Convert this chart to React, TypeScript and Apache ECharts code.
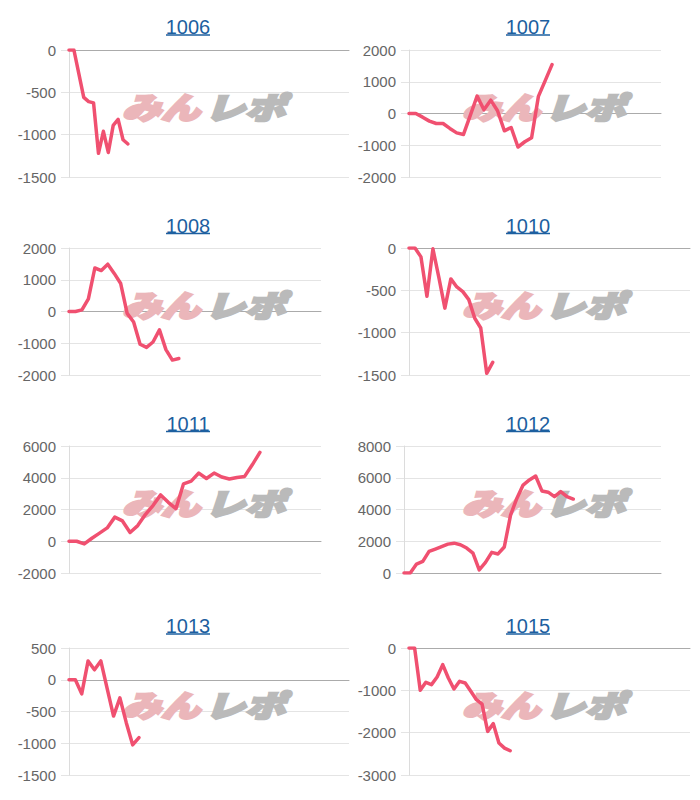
import React, { useEffect, useRef } from "react";
import * as echarts from "echarts";

// ---- data ----
const titles = ["1006", "1007", "1008", "1010", "1011", "1012", "1013", "1015"];
const categoryCounts = [58, 38, 40, 48, 34, 42, 45, 51];

const s1006 = [0, 0, -280, -560, -610, -625, -1220, -960, -1210, -890, -820, -1060, -1110];
const s1007 = [0, 0, -115, -240, -315, -315, -470, -610, -660, -60, 550, 115, 420, 85, -545, -440, -1055, -890, -765, 540, 1035, 1540];
const s1008 = [0, 0, 50, 400, 1370, 1290, 1490, 1200, 880, -60, -330, -1030, -1130, -960, -580, -1200, -1530, -1480];
const s1010 = [0, 0, -105, -570, -10, -350, -710, -365, -460, -515, -610, -830, -945, -1480, -1350];
const s1011 = [0, 0, -170, 190, 510, 840, 1520, 1280, 555, 985, 1680, 2250, 2920, 2450, 2050, 3620, 3790, 4295, 3955, 4295, 4045, 3920, 4020, 4085, 4815, 5595];
const s1012 = [0, 0, 560, 730, 1360, 1510, 1660, 1820, 1880, 1780, 1570, 1250, 200, 670, 1300, 1200, 1640, 3650, 4700, 5540, 5860, 6110, 5170, 5090, 4810, 5130, 4810, 4660];
const s1013 = [0, 0, -222, 296, 156, 296, -140, -572, -286, -676, -1025, -910];
const s1015 = [0, 0, -1000, -810, -866, -686, -394, -709, -969, -787, -827, -1024, -1220, -1325, -1969, -1787, -2245, -2365, -2428];

const seriesValues = [s1006, s1007, s1008, s1010, s1011, s1012, s1013, s1015];

const yMins = [-1500, -2000, -2000, -1500, -2000, 0, -1500, -3000];
const yMaxs = [0, 2000, 2000, 0, 6000, 8000, 500, 0];
const ySteps = [500, 1000, 1000, 500, 2000, 2000, 500, 1000];

// ---- layout (positions only) ----
const gridBoxes = [
  { left: 69, top: 50, width: 280, height: 127 },
  { left: 409, top: 50, width: 252, height: 127 },
  { left: 69, top: 248, width: 252, height: 127 },
  { left: 409, top: 248, width: 281, height: 127 },
  { left: 69, top: 446, width: 252, height: 127 },
  { left: 404, top: 446, width: 257, height: 127 },
  { left: 69, top: 648, width: 280, height: 127 },
  { left: 409, top: 648, width: 281, height: 127 },
];
const titleX = [188, 528];
const titleY = [27, 225.5, 423.5, 626];
const logoX = [204, 544];
const logoY = [106, 304, 502, 704];

const LINE_COLOR = "#f05070";
const TITLE_COLOR = "#1d5f9f";
const GRID_COLOR = "#e4e4e4";
const FONT = "'Liberation Sans', Arial, Helvetica, sans-serif";
const LOGO_FONT = "'Noto Sans CJK JP', sans-serif";

export default function App() {
  const ref = useRef<HTMLDivElement>(null);

  useEffect(() => {
    if (!ref.current) return;
    const chart = echarts.init(ref.current, undefined, { renderer: "svg" });

    const graphics: any[] = [];
    titles.forEach((t, i) => {
      const cx = titleX[i % 2];
      const cy = titleY[Math.floor(i / 2)];
      graphics.push({
        type: "text",
        x: cx,
        y: cy,
        z: 10,
        style: {
          text: t,
          fill: TITLE_COLOR,
          fontSize: 20,
          fontFamily: FONT,
          align: "center",
          verticalAlign: "middle",
        },
      });
      graphics.push({
        type: "line",
        z: 10,
        shape: { x1: cx - 22, y1: cy + 8, x2: cx + 22, y2: cy + 8 },
        style: { stroke: TITLE_COLOR, lineWidth: 1.5 },
      });
      const lx = logoX[i % 2];
      const ly = logoY[Math.floor(i / 2)];
      graphics.push({
        type: "text",
        x: lx - 43,
        y: ly,
        z: 1,
        scaleX: 1.3,
        style: {
          text: "みん",
          fill: "#ebb6ba",
          stroke: "#ebb6ba",
          lineWidth: 2.5,
          fontSize: 30,
          fontWeight: 900,
          fontStyle: "italic",
          fontFamily: LOGO_FONT,
          align: "center",
          verticalAlign: "middle",
        },
      });
      graphics.push({
        type: "text",
        x: lx + 41,
        y: ly,
        z: 1,
        scaleX: 1.34,
        style: {
          text: "レポ",
          fill: "#bababa",
          stroke: "#bababa",
          lineWidth: 2.5,
          fontSize: 30,
          fontWeight: 900,
          fontStyle: "italic",
          fontFamily: LOGO_FONT,
          align: "center",
          verticalAlign: "middle",
        },
      });
    });

    const option: any = {
      animation: false,
      backgroundColor: "#ffffff",
      grid: gridBoxes.map((g) => ({ ...g, containLabel: false })),
      xAxis: categoryCounts.map((n, i) => ({
        type: "category",
        gridIndex: i,
        data: Array.from({ length: n }, (_, k) => String(k + 1)),
        boundaryGap: false,
        axisLabel: { show: false },
        axisTick: { show: false },
        axisLine: { show: true, onZero: true, lineStyle: { color: "#ababab", width: 1 } },
        splitLine: { show: false },
      })),
      yAxis: titles.map((_, i) => ({
        type: "value",
        gridIndex: i,
        min: yMins[i],
        max: yMaxs[i],
        interval: ySteps[i],
        axisLine: { show: true, lineStyle: { color: "#dcdcdc" } },
        axisTick: { show: true, length: 8, lineStyle: { color: GRID_COLOR } },
        axisLabel: {
          color: "#666666",
          fontSize: 15,
          fontFamily: FONT,
          margin: 13,
          formatter: (v: number) => String(v),
        },
        splitLine: { show: true, lineStyle: { color: GRID_COLOR, width: 1 } },
      })),
      series: seriesValues.map((vals, i) => ({
        type: "line",
        name: titles[i],
        xAxisIndex: i,
        yAxisIndex: i,
        data: vals,
        symbol: "none",
        showSymbol: false,
        silent: true,
        z: 5,
        lineStyle: { color: LINE_COLOR, width: 3.5, join: "round", cap: "round" },
        itemStyle: { color: LINE_COLOR },
      })),
      graphic: graphics,
    };

    chart.setOption(option);
    return () => chart.dispose();
  }, []);

  return (
    <div
      ref={ref}
      style={{ position: "absolute", left: 0, top: 0, width: 700, height: 800 }}
    />
  );
}
